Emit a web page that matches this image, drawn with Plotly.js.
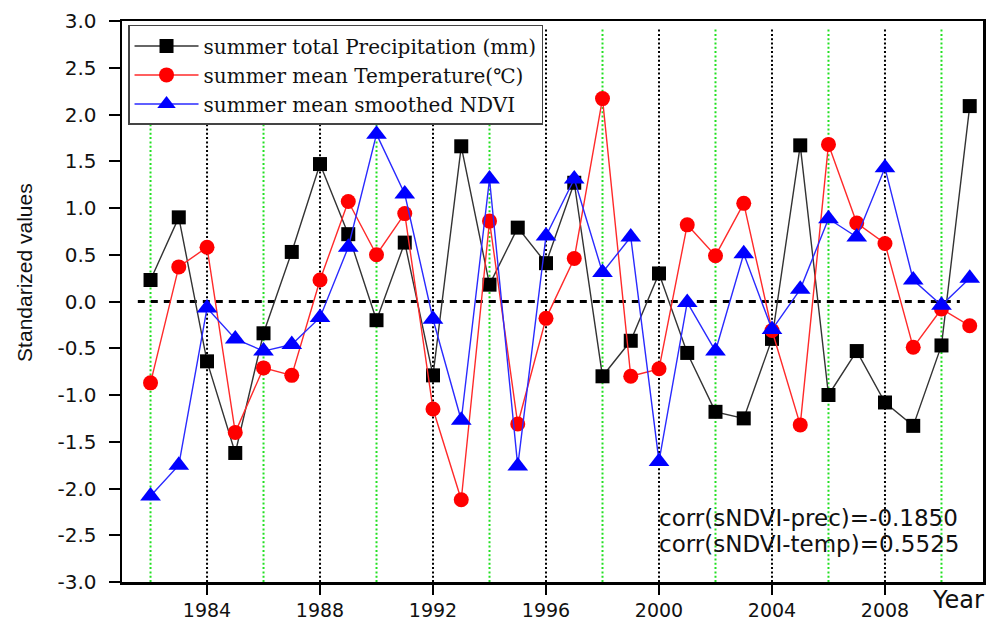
<!DOCTYPE html>
<html>
<head>
<meta charset="utf-8">
<script src="https://cdn.plot.ly/plotly-3.0.1.min.js"></script>
<style>
  html, body { margin: 0; padding: 0; background: #fff; }
  #chart { width: 1005px; height: 621px; }
</style>
</head>
<body>
<div id="chart"></div>
<script>
// Standardized summer series, 1982-2011
const years = [1982, 1983, 1984, 1985, 1986, 1987, 1988, 1989, 1990, 1991,
               1992, 1993, 1994, 1995, 1996, 1997, 1998, 1999, 2000, 2001,
               2002, 2003, 2004, 2005, 2006, 2007, 2008, 2009, 2010, 2011];

const precipitation = [0.23, 0.90, -0.64, -1.62, -0.34, 0.53, 1.47, 0.72, -0.20, 0.63,
                       -0.79, 1.66, 0.18, 0.79, 0.41, 1.27, -0.80, -0.42, 0.30, -0.55,
                       -1.18, -1.25, -0.40, 1.67, -1.00, -0.53, -1.08, -1.33, -0.47, 2.09];

const temperature = [-0.87, 0.37, 0.58, -1.40, -0.71, -0.79, 0.23, 1.07, 0.50, 0.94,
                     -1.15, -2.12, 0.86, -1.31, -0.18, 0.46, 2.17, -0.80, -0.72, 0.82,
                     0.49, 1.05, -0.31, -1.32, 1.68, 0.84, 0.62, -0.49, -0.08, -0.26];

const ndvi = [-2.08, -1.75, -0.07, -0.40, -0.53, -0.46, -0.17, 0.58, 1.79, 1.15,
              -0.19, -1.27, 1.31, -1.76, 0.70, 1.31, 0.31, 0.69, -1.71, -0.01,
              -0.53, 0.51, -0.30, 0.13, 0.885, 0.69, 1.43, 0.23, -0.04, 0.25];

const seriesNames = ['summer total Precipitation (mm)',
                     'summer mean Temperature(\u2103)',
                     'summer mean smoothed NDVI'];

const xTickVals = [1984, 1988, 1992, 1996, 2000, 2004, 2008];
const yTickVals = [-3, -2.5, -2, -1.5, -1, -0.5, 0, 0.5, 1, 1.5, 2, 2.5, 3];
const corrLabels = ['corr(sNDVI-prec)=-0.1850', 'corr(sNDVI-temp)=0.5525'];

const blackGuides = [1984, 1988, 1992, 1996, 2000, 2004, 2008];
const greenGuides = [1982, 1986, 1990, 1994, 1998, 2002, 2006, 2010];

const traces = [
  {
    x: years, y: precipitation, name: seriesNames[0],
    type: 'scatter', mode: 'lines+markers',
    line: { color: '#333333', width: 1.4 },
    marker: { symbol: 'square', size: 14, color: '#000000' }
  },
  {
    x: years, y: temperature, name: seriesNames[1],
    type: 'scatter', mode: 'lines+markers',
    line: { color: '#ff2a2a', width: 1.4 },
    marker: { symbol: 'circle', size: 15, color: '#ff0000' }
  },
  {
    x: years, y: ndvi, name: seriesNames[2],
    type: 'scatter', mode: 'lines+markers',
    line: { color: '#2a2aff', width: 1.4 },
    marker: { symbol: 'triangle-up', size: 18, color: '#0000ff' }
  }
];

// dotted vertical guides every two years
const shapes = [];
blackGuides.forEach(v => shapes.push({
  type: 'line', layer: 'below', xref: 'x', yref: 'paper',
  x0: v, x1: v, y0: 0, y1: 0.989,
  line: { color: '#000000', width: 2, dash: '2px,2.3px' }
}));
greenGuides.forEach(v => shapes.push({
  type: 'line', layer: 'below', xref: 'x', yref: 'paper',
  x0: v, x1: v, y0: 0, y1: 0.989,
  line: { color: '#22e022', width: 2, dash: '2px,2.3px' }
}));
// zero reference line
shapes.push({
  type: 'line', layer: 'below', xref: 'x', yref: 'y',
  x0: 1981.55, x1: 2010.65, y0: 0, y1: 0,
  line: { color: '#000000', width: 3, dash: '7px,6px' }
});

const sans = 'DejaVu Sans, Arial, sans-serif';

const layout = {
  width: 1005, height: 621,
  margin: { l: 122, r: 22, t: 21, b: 39 },
  paper_bgcolor: '#ffffff', plot_bgcolor: '#ffffff',
  showlegend: true,
  legend: {
    x: 0.007, y: 0.993, xanchor: 'left', yanchor: 'top',
    bgcolor: '#ffffff', bordercolor: '#444444', borderwidth: 1.5,
    font: { family: 'DejaVu Serif, Liberation Serif, serif', size: 20, color: '#111111' },
    itemwidth: 64, tracegroupgap: 0
  },
  xaxis: {
    range: [1980.99, 2011.47],
    tickmode: 'array', tickvals: xTickVals, ticktext: xTickVals.map(String),
    ticks: 'outside', ticklen: 10, tickwidth: 2.5, tickcolor: '#000',
    showline: true, linewidth: 2.5, linecolor: '#000', mirror: true,
    showgrid: false, zeroline: false,
    tickfont: { family: sans, size: 19, color: '#111' }
  },
  yaxis: {
    range: [-3, 3],
    tickmode: 'array', tickvals: yTickVals, ticktext: yTickVals.map(v => v.toFixed(1)),
    ticks: 'outside', ticklen: 11, tickwidth: 2, tickcolor: '#000',
    ticklabelstandoff: 8,
    showline: true, linewidth: 2.5, linecolor: '#000', mirror: true,
    showgrid: false, zeroline: false,
    tickfont: { family: sans, size: 20, color: '#111' }
  },
  shapes: shapes,
  annotations: [
    {
      text: 'Standarized values', textangle: -90,
      xref: 'paper', yref: 'paper', x: 0, y: 0.551,
      xanchor: 'center', yanchor: 'middle', xshift: -97, showarrow: false,
      font: { family: 'Liberation Sans, Arial, sans-serif', size: 21, color: '#111' }
    },
    {
      text: 'Year',
      xref: 'paper', yref: 'paper', x: 1, y: 0,
      xanchor: 'center', yanchor: 'middle', xshift: -25, yshift: -18, showarrow: false,
      font: { family: sans, size: 24, color: '#111' }
    },
    {
      text: corrLabels[0],
      xref: 'paper', yref: 'paper', x: 0.6214, y: 0.114,
      xanchor: 'left', yanchor: 'middle', showarrow: false,
      font: { family: sans, size: 23, color: '#111' }
    },
    {
      text: corrLabels[1],
      xref: 'paper', yref: 'paper', x: 0.6214, y: 0.068,
      xanchor: 'left', yanchor: 'middle', showarrow: false,
      font: { family: sans, size: 23, color: '#111' }
    }
  ]
};

Plotly.newPlot('chart', traces, layout, { displayModeBar: false, staticPlot: true });
</script>
</body>
</html>
